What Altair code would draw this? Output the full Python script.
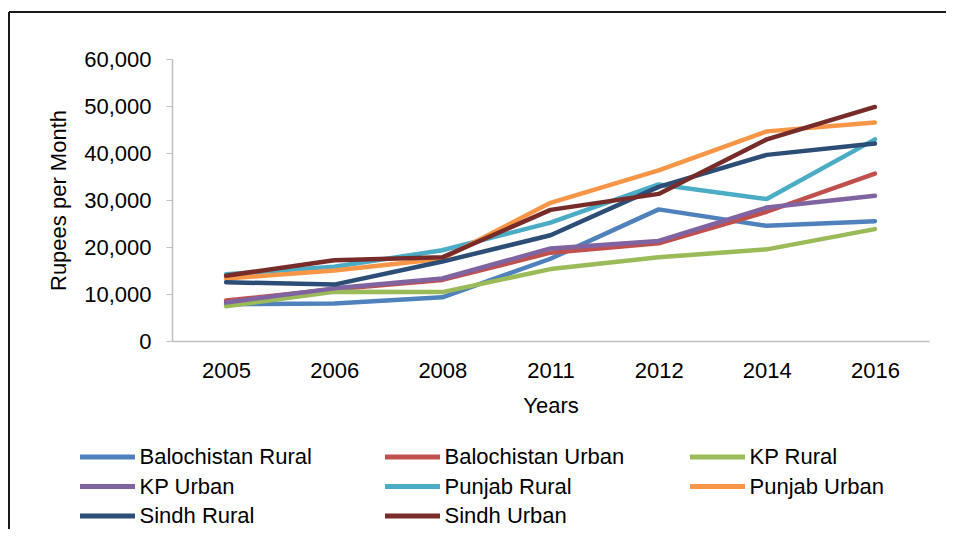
import altair as alt
import pandas as pd

years = ["2005", "2006", "2008", "2011", "2012", "2014", "2016"]
series_names = ["Balochistan Rural", "Balochistan Urban", "KP Rural", "KP Urban",
                "Punjab Rural", "Punjab Urban", "Sindh Rural", "Sindh Urban"]
bal_rural = [7800, 8000, 9300, 17500, 28000, 24500, 25500]
bal_urban = [8600, 11000, 13000, 18800, 20800, 27500, 35600]
kp_rural = [7400, 10500, 10400, 15300, 17800, 19500, 23800]
kp_urban = [8200, 11200, 13300, 19700, 21300, 28400, 30900]
punjab_rural = [14200, 15800, 19300, 25200, 33300, 30200, 42900]
punjab_urban = [13300, 15000, 17500, 29400, 36300, 44600, 46500]
sindh_rural = [12500, 12000, 16900, 22500, 32800, 39600, 42000]
sindh_urban = [13900, 17200, 17800, 27900, 31300, 42900, 49800]
colors = ["#4F81BD", "#C0504D", "#9BBB59", "#8064A2",
          "#4BACC6", "#F79646", "#2C4D75", "#772C2A"]
y_ticks = [0, 10000, 20000, 30000, 40000, 50000, 60000]

all_series = [bal_rural, bal_urban, kp_rural, kp_urban,
              punjab_rural, punjab_urban, sindh_rural, sindh_urban]
rows = []
for si, (name, vals) in enumerate(zip(series_names, all_series)):
    for yi, (yr, v) in enumerate(zip(years, vals)):
        rows.append({"Series": name, "Year": yr, "Value": v, "s": si, "i": yi})
df = pd.DataFrame(rows)

FONT = "Liberation Sans"
FS = 22
W, H = 757, 282

lines = alt.Chart(df).mark_line(strokeWidth=4.5, strokeCap="round", strokeJoin="round").encode(
    x=alt.X("Year:O", sort=years, scale=alt.Scale(padding=0.5),
            axis=alt.Axis(title="Years", labelAngle=0, ticks=False, labelPadding=19,
                          domainColor="#BFBFBF", domainWidth=1.5,
                          titleY=64, titleBaseline="middle")),
    y=alt.Y("Value:Q", scale=alt.Scale(domain=[0, 60000], nice=False),
            axis=alt.Axis(title="Rupees per Month", values=y_ticks, format=",.0f",
                          grid=False, tickSize=6, tickColor="#BFBFBF",
                          domainColor="#BFBFBF", domainWidth=1.5, labelPadding=15,
                          titleX=-114, titleY=141, titleBaseline="middle")),
    color=alt.Color("Series:N", sort=series_names,
                    scale=alt.Scale(domain=series_names, range=colors),
                    legend=alt.Legend(title=None, orient="none", legendX=-92, legendY=387,
                                      direction="horizontal",
                                      columns=3, gridAlign="all", columnPadding=55,
                                      symbolType="M-4,0H4", symbolSize=189,
                                      symbolOffset=16.5,
                                      symbolStrokeWidth=5, labelFontSize=FS,
                                      labelOffset=21, rowPadding=7.5, labelLimit=400,
                                      padding=0, labelColor="#000000")),
    order=alt.Order("i:Q"),
    detail="s:N",
)

frame_top = alt.Chart(df).mark_rule(color="#1A1A1A", strokeWidth=1.5).encode(
    x=alt.value(-163), x2=alt.value(W + 40), y=alt.value(-47))
frame_left = alt.Chart(df).mark_rule(color="#1A1A1A", strokeWidth=1.5).encode(
    x=alt.value(-163), y=alt.value(-47), y2=alt.value(H + 200))

chart = alt.layer(frame_top, frame_left, lines).properties(
    width=W, height=H,
    autosize=alt.AutoSizeParams(type="none"),
    padding={"left": 164, "top": 51, "right": 17, "bottom": 188},
).configure(font=FONT).configure_axis(
    labelFontSize=FS, titleFontSize=FS, labelColor="#000000", titleColor="#000000",
    titleFontWeight="normal", labelFont=FONT, titleFont=FONT,
).configure_view(stroke=None).configure_legend(labelFont=FONT)

chart.save("out.html", embed_options={"renderer": "svg", "actions": False})
